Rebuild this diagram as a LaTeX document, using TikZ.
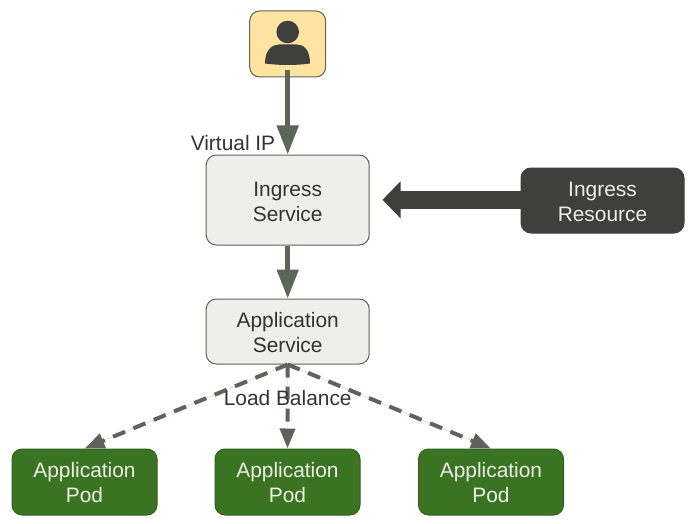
\documentclass[tikz,border=0pt]{standalone}
\usepackage{fontspec}
\setmainfont{Liberation Sans}
\usetikzlibrary{arrows.meta}
\definecolor{edge}{HTML}{5B6658}
\definecolor{ink}{HTML}{333333}
\definecolor{lightbox}{HTML}{EEEEEB}
\definecolor{userbox}{HTML}{FFE3A0}
\definecolor{podgreen}{HTML}{3A7423}
\definecolor{darkbox}{HTML}{3F403D}
\definecolor{pale}{HTML}{EDEDE6}
\tikzset{
  box/.style={rounded corners=10pt,line width=1pt,align=center,font=\fontsize{20.9}{25}\selectfont,inner sep=0pt,text height=42pt,text depth=0pt},
  lightnode/.style={box,draw=edge,fill=lightbox,text=ink},
  pod/.style={box,text height=40.5pt,draw=podgreen!85!black,fill=podgreen,text=pale,minimum width=145pt,minimum height=66pt},
  resource/.style={box,draw=darkbox,fill=darkbox,text=pale,minimum width=163pt,minimum height=65pt},
  solidlink/.style={draw=edge,fill=edge,line width=5pt,-{Triangle[length=29pt,width=21pt]}},
  dashlink/.style={draw=edge,fill=edge,line width=4pt,dash pattern=on 13pt off 9pt,-{Triangle[length=20pt,width=15pt]}},
  biglink/.style={draw=darkbox,fill=darkbox,line width=18pt,-{Triangle[length=18pt,width=36pt]}},
  plainlabel/.style={font=\fontsize{20.9}{25}\selectfont,text=ink,inner sep=0pt},
}
\begin{document}
\begin{tikzpicture}[x=1pt,y=-1pt]
\useasboundingbox (0,0) rectangle (693,524);
% nodes
\node[box,draw=edge,fill=userbox,minimum width=76pt,minimum height=66pt] (user) at (287.7,44) {};
\node[lightnode,minimum width=163pt,minimum height=90pt] (ingress) at (287.7,200) {Ingress\\Service};
\node[lightnode,minimum width=163pt,minimum height=65pt] (appsvc) at (287.7,331.5) {Application\\Service};
\node[pod] (pod1) at (84.5,482) {Application\\Pod};
\node[pod] (pod2) at (287.5,482) {Application\\Pod};
\node[pod] (pod3) at (491,482) {Application\\Pod};
\node[resource] (res) at (602.5,200.5) {Ingress\\Resource};
% person icon
\fill[darkbox] (287.7,32) circle (11.3);
\fill[darkbox] (265,63.5) .. controls (265,50) and (272,44.5) .. (279,44.5) -- (297,44.5) .. controls (304,44.5) and (310,50) .. (310,63.5) .. controls (296,65.5) and (280,65.5) .. (265,63.5) -- cycle;
% connectors
\coordinate (userfoot) at (287.7,70);
\coordinate (restip) at (382.5,199.8);
\coordinate (resstart) at (525,199.8);
\draw[solidlink] (userfoot) -- (ingress.north);
\draw[solidlink] (ingress.south) -- (appsvc.north);
\draw[biglink] (resstart) -- (restip);
\draw[dashlink] (appsvc.south) -- (pod1.north);
\draw[dashlink] (appsvc.south) -- (pod2.north);
\draw[dashlink] (appsvc.south) -- (pod3.north);
% labels
\node[plainlabel,anchor=base] (vip) at (233,150) {Virtual IP};
\node[plainlabel,anchor=base] (lb) at (287.7,405.5) {Load Balance};
\end{tikzpicture}
\end{document}
